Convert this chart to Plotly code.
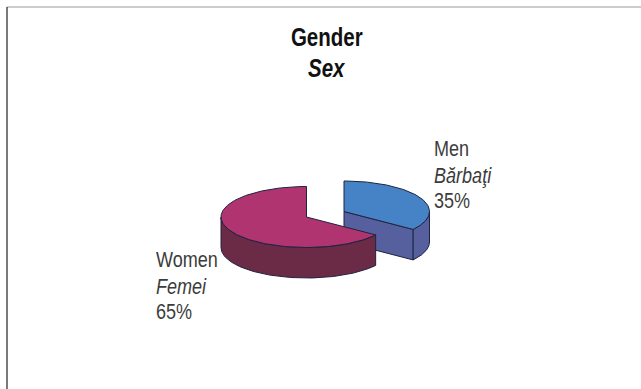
import numpy as np
import plotly.graph_objects as go

# Chart data
categories = ["Men", "Women"]
translations = ["Bărbaţi", "Femei"]
shares = [35, 65]

# Styling
top_colors = ["#4583C6", "#B03470"]
side_colors = ["#56609F", "#6B2A45"]
outline = "#1F2340"
font = "Liberation Sans"
text_condense = 0.82

# Pie geometry in page pixels
centers = [(344.0, 211.5), (306.5, 217.0)]
RX, RY, DEPTH = 85.5, 30.5, 30.5


def rim(center, start, end, n=80):
    """Points on the elliptical rim, angles in percent clockwise from 12 o'clock."""
    t = np.radians(np.linspace(start, end, n) * 3.6)
    return center[0] + RX * np.sin(t), center[1] - RY * np.cos(t)


def polygon(fig, x, y, color):
    fig.add_trace(go.Scatter(
        x=np.append(x, x[0]), y=np.append(y, y[0]), mode="lines", fill="toself",
        fillcolor=color, line=dict(color=outline, width=1), hoverinfo="skip",
    ))


fig = go.Figure()

# Slice spans derived from the shares
men_end = shares[0]
women_start, women_end = men_end, men_end + shares[1]

# Men: cut face, outer wall, then top
c = centers[0]
rx, ry = rim(c, 0, men_end)
polygon(fig, [c[0], rx[-1], rx[-1], c[0]], [c[1], ry[-1], ry[-1] + DEPTH, c[1] + DEPTH], side_colors[0])
wx, wy = rim(c, 25, men_end)
polygon(fig, np.concatenate([wx, wx[::-1]]), np.concatenate([wy, wy[::-1] + DEPTH]), side_colors[0])
polygon(fig, np.concatenate([[c[0]], rx]), np.concatenate([[c[1]], ry]), top_colors[0])

# Women: outer wall, then top
c = centers[1]
wx, wy = rim(c, women_start, 75)
polygon(fig, np.concatenate([wx, wx[::-1]]), np.concatenate([wy, wy[::-1] + DEPTH]), side_colors[1])
rx, ry = rim(c, women_start, women_end, 160)
polygon(fig, np.concatenate([[c[0]], rx]), np.concatenate([[c[1]], ry]), top_colors[1])


def label(text, x, y, size, color="#3C3C3C", anchor="left"):
    return dict(x=x, y=y, text=text, showarrow=False, xanchor=anchor, yanchor="middle",
                align=anchor, borderpad=0, borderwidth=0,
                font=dict(family=font, size=size, color=color))


annotations = [
    label("<b>Gender</b>", 327, 37, 25, "#111111", "center"),
    label("<b><i>Sex</i></b>", 327, 68, 25, "#111111", "center"),
    label(categories[0], 434, 148, 22),
    label(f"<i>{translations[0]}</i>", 434, 175, 22),
    label(f"{shares[0]}%", 434, 200, 22),
    label(categories[1], 156, 259, 22),
    label(f"<i>{translations[1]}</i>", 156, 286, 22),
    label(f"{shares[1]}%", 156, 311, 22),
]

# Page frame along the top and left edges
shapes = [
    dict(type="line", x0=7, x1=641, y0=7, y1=7, line=dict(color="#9A9A9A", width=1)),
    dict(type="line", x0=7, x1=7, y0=7, y1=389, line=dict(color="#222222", width=1.2)),
]

fig.update_layout(
    width=641, height=389, margin=dict(l=0, r=0, t=0, b=0), autosize=False,
    paper_bgcolor="white", plot_bgcolor="white", showlegend=False,
    xaxis=dict(range=[0, 641], visible=False, fixedrange=True),
    yaxis=dict(range=[389, 0], visible=False, fixedrange=True),
    annotations=annotations, shapes=shapes,
)

# Narrow the annotation glyphs horizontally, since no condensed face is installed
condense_text = f"""
document.querySelectorAll('.annotation-text').forEach(function (el) {{
  el.setAttribute('lengthAdjust', 'spacingAndGlyphs');
  el.setAttribute('textLength', el.getComputedTextLength() * {text_condense});
}});
"""

fig.write_html("out.html", config=dict(displayModeBar=False), post_script=condense_text)
